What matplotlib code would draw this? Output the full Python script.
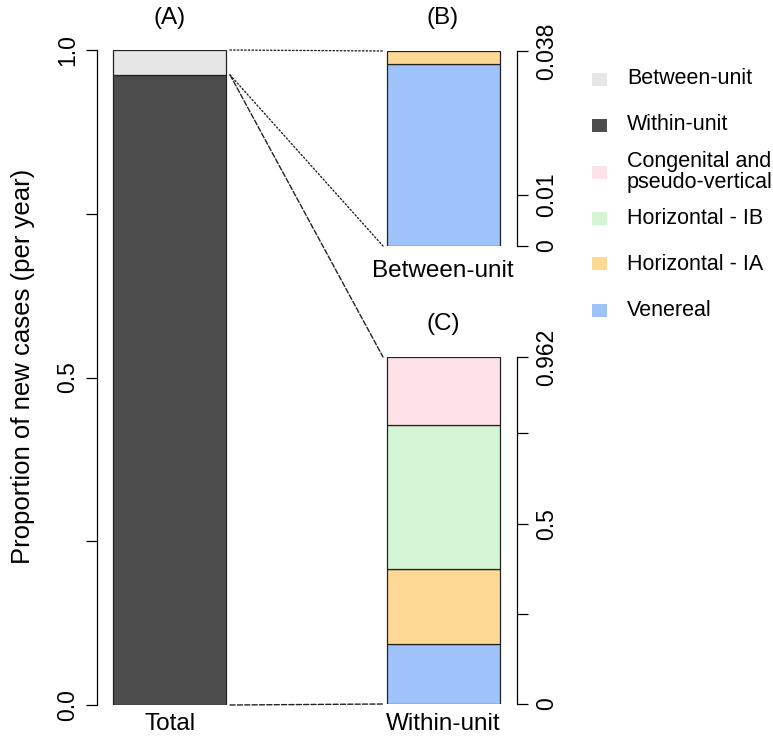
import matplotlib
matplotlib.use("Agg")
import matplotlib.pyplot as plt
from matplotlib.patches import ConnectionPatch, Rectangle

plt.rcParams['font.family'] = ['Liberation Sans', 'DejaVu Sans']

# ---- data ----
total_labels = ["Within-unit", "Between-unit"]
total_values = [0.962, 0.038]
total_colors = ["#4d4d4d", "#e6e6e6"]

between_labels = ["Venereal", "Horizontal - IA"]
between_values = [0.0355, 0.0025]
between_colors = ["#9ec3fb", "#fdd995"]

within_labels = ["Venereal", "Horizontal - IA", "Horizontal - IB", "Congenital and\npseudo-vertical"]
within_values = [0.166, 0.208, 0.399, 0.189]
within_colors = ["#9ec3fb", "#fdd995", "#d4f5d4", "#fde2e7"]

legend_labels = ["Between-unit", "Within-unit", "Congenital and\npseudo-vertical",
                 "Horizontal - IB", "Horizontal - IA", "Venereal"]
legend_colors = ["#e6e6e6", "#4d4d4d", "#fde2e7", "#d4f5d4", "#fdd995", "#9ec3fb"]

W, H = 773, 744
fig = plt.figure(figsize=(W / 100, H / 100), dpi=100)


def box(x0, y0, x1, y1):
    return [x0 / W, 1 - y1 / H, (x1 - x0) / W, (y1 - y0) / H]


pad = 17 / 113
axA = fig.add_axes(box(97, 50, 242, 705))
axB = fig.add_axes(box(370, 51, 517, 246))
axC = fig.add_axes(box(370, 357, 517, 704))

FS_LAB = 17.5
FS_YLAB = 18.5
FS_TICK = 16.5
FS_LEG = 15.5


def stack(ax, vals, cols):
    bottom = 0
    for v, c in zip(vals, cols):
        ax.bar(0, v, width=1, bottom=bottom, color=c, edgecolor="#222222", linewidth=0.9)
        bottom += v
    return bottom


stack(axA, total_values, total_colors)
tb = stack(axB, between_values, between_colors)
tc = stack(axC, within_values, within_colors)

axA.set_xlim(-0.5 - 16 / 113, 0.5 + 16 / 113)
axA.set_ylim(0, 1)
axB.set_xlim(-0.5 - pad, 0.5 + pad)
axB.set_ylim(0, tb)
axC.set_xlim(-0.5 - pad, 0.5 + pad)
axC.set_ylim(0, tc)

for ax in (axA, axB, axC):
    for s in ("top", "bottom", "left", "right"):
        ax.spines[s].set_visible(False)
    ax.set_xticks([])

axA.spines["left"].set_visible(True)
axA.set_yticks([0, 0.25, 0.5, 0.75, 1.0])
axA.set_yticklabels(["0.0", "", "0.5", "", "1.0"])

axB.spines["right"].set_visible(True)
axB.yaxis.tick_right()
axB.set_yticks([0, 0.01, tb])
axB.set_yticklabels(["0", "0.01", "0.038"])

axC.spines["right"].set_visible(True)
axC.yaxis.tick_right()
axC.set_yticks([0, 0.25, 0.5, 0.75, tc])
axC.set_yticklabels(["0", "", "0.5", "", "0.962"])

for ax in (axA, axB, axC):
    ax.tick_params(axis="y", length=8, width=0.9, labelsize=FS_TICK, pad=5,
                   labelrotation=90)
    ax.spines["left"].set_linewidth(0.9)
    ax.spines["right"].set_linewidth(0.9)
    for lab in ax.get_yticklabels():
        lab.set_va("center")

fig.text(23 / W, 1 - 366 / H, "Proportion of new cases (per year)", rotation=90,
         ha="center", va="center", fontsize=FS_YLAB)

# titles and bottom labels
fig.text(170 / W, 1 - 18 / H, "(A)", ha="center", va="center", fontsize=FS_LAB)
fig.text(443 / W, 1 - 18 / H, "(B)", ha="center", va="center", fontsize=FS_LAB)
fig.text(443 / W, 1 - 324 / H, "(C)", ha="center", va="center", fontsize=FS_LAB)
fig.text(170 / W, 1 - 724 / H, "Total", ha="center", va="center", fontsize=FS_LAB)
fig.text(443 / W, 1 - 271 / H, "Between-unit", ha="center", va="center", fontsize=FS_LAB)
fig.text(443 / W, 1 - 724 / H, "Within-unit", ha="center", va="center", fontsize=FS_LAB)

# connector lines
g = 4 / 113
split = total_values[0]
conns = [
    ((0.5 + g, 1.0), axA, (-0.5 - g, tb), axB, ":"),
    ((0.5 + g, split), axA, (-0.5 - g, 0), axB, ":"),
    ((0.5 + g, split), axA, (-0.5 - g, tc), axC, "--"),
    ((0.5 + g, 0), axA, (-0.5 - g, 0), axC, "--"),
]
for pA, aA, pB, aB, ls in conns:
    cp = ConnectionPatch(xyA=pA, coordsA=aA.transData, xyB=pB, coordsB=aB.transData,
                         linestyle=ls, color="#222222", linewidth=1.0)
    fig.add_artist(cp)

# legend
leg_y = [79, 125, 172, 218, 264, 310]
for lab, col, y in zip(legend_labels, legend_colors, leg_y):
    fig.add_artist(Rectangle((592 / W, 1 - (y + 6.5) / H), 15 / W, 13 / H,
                             transform=fig.transFigure, facecolor=col, edgecolor="none"))
    fig.text(627 / W, 1 - y / H, lab, ha="left", va="center", fontsize=FS_LEG,
             linespacing=1.05)

fig.savefig("out.png", dpi=100)
